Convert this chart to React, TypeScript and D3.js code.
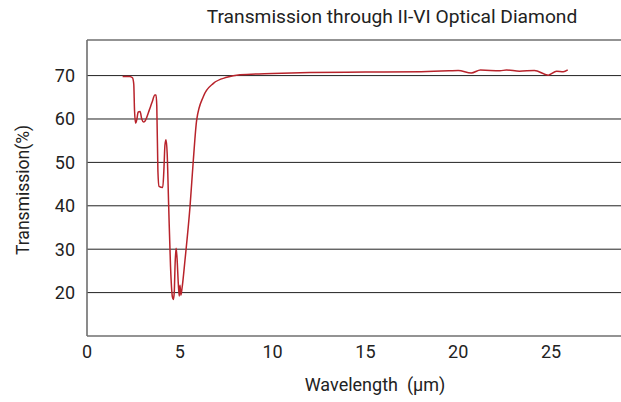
import { useEffect, useRef } from "react";
import * as d3 from "d3";

const wavelength = [
  1.92, 2.3, 2.45, 2.52, 2.56, 2.62, 2.68, 2.76, 2.86, 2.95, 3.05, 3.12, 3.36,
  3.5, 3.66, 3.72, 3.76, 3.82, 3.88, 4.08, 4.14, 4.2, 4.26, 4.32, 4.4, 4.5,
  4.6, 4.65, 4.7, 4.75, 4.8, 4.85, 4.92, 4.97, 5.01, 5.06, 5.12, 5.28, 5.55,
  5.73, 5.91, 6.27, 6.81, 7.53, 8.24, 10, 12, 15, 18, 19.5, 20, 20.7, 21.2,
  22.25, 22.6, 23.3, 24.1, 24.85, 25.3, 25.66, 25.9,
];
const transmission = [
  69.8, 69.8, 69.5, 68, 62, 59, 59.8, 61.6, 61.7, 60, 59.3, 59.5, 62.1, 63.8,
  65.5, 65.5, 63, 48, 44.5, 44.2, 48, 54, 55.2, 52, 40, 26, 19, 18.4, 20, 27,
  30.2, 28, 22, 19.2, 21.7, 19.4, 21, 27.5, 39.8, 50.6, 59.8, 65.2, 68.2, 69.6,
  70.2, 70.5, 70.7, 70.8, 70.9, 71.1, 71.2, 70.6, 71.3, 71.1, 71.3, 71.0, 71.2,
  70.1, 71.0, 70.9, 71.3,
];
const xTicks = [0, 5, 10, 15, 20, 25];
const yTicks = [20, 30, 40, 50, 60, 70];

const width = 621;
const height = 402;

const App = () => {
  const svgRef = useRef<SVGSVGElement>(null);

  useEffect(() => {
    const svg = d3.select(svgRef.current);
    svg.selectAll("*").remove();
    const margin = { top: 40, right: 0, bottom: 66, left: 87 };
    const font = "Roboto, 'Noto Sans', sans-serif";

    const x = d3
      .scaleLinear()
      .domain([0, 28.77])
      .range([margin.left, width - margin.right]);
    const y = d3
      .scaleLinear()
      .domain([10, 78.2])
      .range([height - margin.bottom, margin.top]);

    const data = wavelength.map((w, i) => ({ w, t: transmission[i] }));

    // gridlines
    svg
      .append("g")
      .selectAll("line")
      .data(yTicks)
      .join("line")
      .attr("x1", margin.left)
      .attr("x2", width)
      .attr("y1", (d) => y(d))
      .attr("y2", (d) => y(d))
      .attr("stroke", "#222")
      .attr("stroke-width", 1);

    // frame: top, left, bottom
    const frame = svg.append("g").attr("stroke", "#6f6f6f").attr("stroke-width", 1.6);
    frame
      .append("line")
      .attr("x1", margin.left)
      .attr("x2", width)
      .attr("y1", y(78.2))
      .attr("y2", y(78.2));
    frame
      .append("line")
      .attr("x1", margin.left)
      .attr("x2", width)
      .attr("y1", y(10))
      .attr("y2", y(10));
    frame
      .append("line")
      .attr("x1", margin.left)
      .attr("x2", margin.left)
      .attr("y1", y(78.2))
      .attr("y2", y(10));

    const line = d3
      .line<{ w: number; t: number }>()
      .x((d) => x(d.w))
      .y((d) => y(d.t))
      .curve(d3.curveMonotoneX);

    svg
      .append("path")
      .datum(data)
      .attr("fill", "none")
      .attr("stroke", "#b8232b")
      .attr("stroke-width", 1.5)
      .attr("d", line);

    // y tick labels
    svg
      .append("g")
      .selectAll("text")
      .data(yTicks)
      .join("text")
      .attr("x", margin.left - 12)
      .attr("y", (d) => y(d))
      .attr("dy", "0.36em")
      .attr("text-anchor", "end")
      .attr("font-family", font)
      .attr("font-size", 18)
      .attr("fill", "#222")
      .text((d) => d);

    // x tick labels
    svg
      .append("g")
      .selectAll("text")
      .data(xTicks)
      .join("text")
      .attr("x", (d) => x(d))
      .attr("y", height - margin.bottom + 22)
      .attr("text-anchor", "middle")
      .attr("font-family", font)
      .attr("font-size", 18)
      .attr("fill", "#222")
      .text((d) => d);

    svg
      .append("text")
      .attr("x", 392)
      .attr("y", 23)
      .attr("text-anchor", "middle")
      .attr("font-family", font)
      .attr("font-size", 19.2)
      .attr("fill", "#222")
      .text("Transmission through II-VI Optical Diamond");

    svg
      .append("text")
      .attr("x", 375)
      .attr("y", 391)
      .attr("text-anchor", "middle")
      .attr("font-family", font)
      .attr("font-size", 18)
      .attr("fill", "#222")
      .attr("xml:space", "preserve")
      .style("white-space", "pre")
      .text("Wavelength  (μm)");

    svg
      .append("text")
      .attr("transform", "translate(29,190) rotate(-90)")
      .attr("text-anchor", "middle")
      .attr("font-family", font)
      .attr("font-size", 17.5)
      .attr("fill", "#222")
      .text("Transmission(%)");
  }, []);

  return (
    <svg
      ref={svgRef}
      width={width}
      height={height}
      style={{ position: "absolute", left: 0, top: 0, background: "#fff" }}
    ></svg>
  );
};

export default App;
